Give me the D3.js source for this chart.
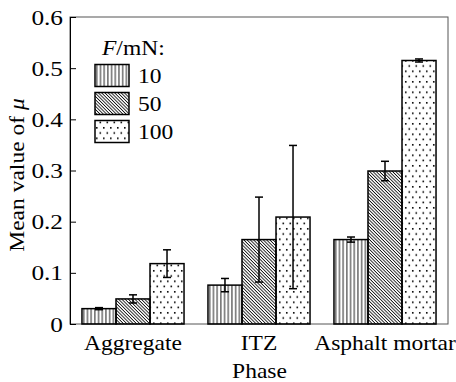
<!DOCTYPE html>
<html>
<head>
<meta charset="utf-8">
<script src="https://cdn.jsdelivr.net/npm/d3@7"></script>
<style>
  body { margin: 0; background: #fff; }
  text { font-family: "Liberation Serif", "Times New Roman", serif; fill: #000; }
</style>
</head>
<body>
<div id="chart"></div>
<script>
// data
const phases = ["Aggregate", "ITZ", "Asphalt mortar"]
const loads = ["10", "50", "100"]
const mu10 = [0.030, 0.076, 0.165]
const mu50 = [0.049, 0.165, 0.299]
const mu100 = [0.118, 0.209, 0.515]
const err10 = [0.002, 0.013, 0.005]
const err50 = [0.008, 0.083, 0.019]
const err100 = [0.027, 0.140, 0.003]
const yTicks = [0, 0.1, 0.2, 0.3, 0.4, 0.5, 0.6]

const W = 456, H = 382
const margin = {top: 17, right: 8, bottom: 58, left: 70}
const width = W - margin.left - margin.right,
height = H - margin.top - margin.bottom

const fontSize = 21, stretch = 1.12

const svg = d3.select("#chart")
.append("svg")
.attr("width", W)
.attr("height", H)

// hatch patterns
const defs = svg.append("defs")

const pVert = defs.append("pattern")
.attr("id", "pat10")
.attr("patternUnits", "userSpaceOnUse")
.attr("width", 3.7).attr("height", 10)
pVert.append("line")
.attr("x1", 1.8).attr("x2", 1.8).attr("y1", 0).attr("y2", 10)
.attr("stroke", "#000").attr("stroke-width", 0.9)

const pDiag = defs.append("pattern")
.attr("id", "pat50")
.attr("patternUnits", "userSpaceOnUse")
.attr("width", 2.3).attr("height", 10)
.attr("patternTransform", "rotate(-45)")
pDiag.append("line")
.attr("x1", 1.1).attr("x2", 1.1).attr("y1", 0).attr("y2", 10)
.attr("stroke", "#000").attr("stroke-width", 0.8)

const pDot = defs.append("pattern")
.attr("id", "pat100")
.attr("patternUnits", "userSpaceOnUse")
.attr("width", 7).attr("height", 10.5)
pDot.append("rect").attr("x", 1).attr("y", 1).attr("width", 1.6).attr("height", 1.6).attr("fill", "#000")
pDot.append("rect").attr("x", 4.5).attr("y", 6.2).attr("width", 1.6).attr("height", 1.6).attr("fill", "#000")

const fills = {"10": "url(#pat10)", "50": "url(#pat50)", "100": "url(#pat100)"}

const g = svg.append("g")
.attr("transform", `translate(${margin.left}, ${margin.top})`)

const x = d3.scaleBand()
.domain(phases)
.range([0, width])
.paddingInner(0.19)
.paddingOuter(0.095)

const xSub = d3.scaleBand()
.domain(loads)
.range([0, x.bandwidth()])

const y = d3.scaleLinear()
.domain([0, 0.6])
.range([height, 0])

// stretched serif text helper
function stext(parent, tx, ty, str, anchor, size, sx) {
  return parent.append("text")
  .attr("transform", `translate(${tx}, ${ty}) scale(${sx || stretch}, 1)`)
  .attr("text-anchor", anchor || "middle")
  .attr("font-size", size || fontSize)
  .text(str)
}

// frame
g.append("rect")
.attr("x", 0).attr("y", 0)
.attr("width", width).attr("height", height)
.attr("fill", "none")
.attr("stroke", "#555")
.attr("stroke-width", 1)

const rows = phases.map((p, i) => ({
  phase: p,
  vals: [
    {key: "10", v: mu10[i], e: err10[i]},
    {key: "50", v: mu50[i], e: err50[i]},
    {key: "100", v: mu100[i], e: err100[i]}
  ]
}))

const grp = g.selectAll(".grp")
.data(rows)
.join("g")
.attr("transform", d => `translate(${x(d.phase)}, 0)`)

grp.selectAll("rect")
.data(d => d.vals)
.join("rect")
.attr("x", d => xSub(d.key))
.attr("y", d => y(d.v))
.attr("width", xSub.bandwidth())
.attr("height", d => height - y(d.v))
.attr("fill", d => fills[d.key])
.attr("stroke", "#000")
.attr("stroke-width", 1.5)

// error bars
const eb = grp.selectAll(".eb")
.data(d => d.vals)
.join("g")
.attr("transform", d => `translate(${xSub(d.key) + xSub.bandwidth() / 2}, 0)`)
.attr("stroke", "#000")
.attr("stroke-width", 1.5)

eb.append("line")
.attr("y1", d => y(d.v - d.e)).attr("y2", d => y(d.v + d.e))
eb.append("line")
.attr("x1", -4).attr("x2", 4)
.attr("y1", d => y(d.v + d.e)).attr("y2", d => y(d.v + d.e))
eb.append("line")
.attr("x1", -4).attr("x2", 4)
.attr("y1", d => y(d.v - d.e)).attr("y2", d => y(d.v - d.e))

// y axis, ticks pointing inward
const yAxis = g.append("g")
.call(d3.axisLeft(y).tickValues(yTicks).tickSizeInner(-6).tickSizeOuter(0))
yAxis.select(".domain").attr("stroke", "#000")
yAxis.selectAll(".tick line").attr("stroke", "#000")
yAxis.selectAll(".tick text").remove()
yAxis.selectAll(".tick").each(function(d) {
  stext(d3.select(this), -7, 7, d === 0 ? "0" : d3.format(".1f")(d), "end", 22, 1.15)
})

// x labels
phases.forEach(p => {
  stext(g, x(p) + x.bandwidth() / 2, height + 26, p)
})
stext(g, width / 2 + 0.5, height + 54, "Phase")

// y label
const yl = svg.append("text")
.attr("transform", `translate(24, 175) rotate(-90) scale(${stretch}, 1)`)
.attr("text-anchor", "middle")
.attr("font-size", fontSize)
yl.append("tspan").text("Mean value of ")
yl.append("tspan").attr("font-style", "italic").text("μ")

// legend
const lg = svg.append("g")
.attr("transform", "translate(95, 0)")
const lt = lg.append("text")
.attr("transform", `translate(7, 55) scale(${stretch}, 1)`)
.attr("font-size", fontSize)
lt.append("tspan").attr("font-style", "italic").text("F")
lt.append("tspan").text("/mN:")

loads.forEach((k, i) => {
  lg.append("rect")
  .attr("x", 0).attr("y", 64.5 + i * 28)
  .attr("width", 34).attr("height", 22)
  .attr("fill", fills[k])
  .attr("stroke", "#000")
  .attr("stroke-width", 1.5)
  stext(lg, 43, 83 + i * 28, k, "start")
})
</script>
</body>
</html>
